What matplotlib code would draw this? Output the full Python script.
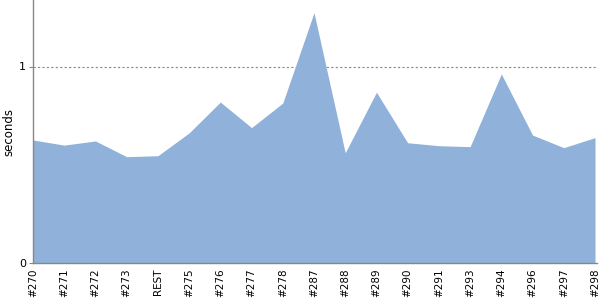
import numpy as np
import matplotlib
matplotlib.use('Agg')
import matplotlib.pyplot as plt

builds = ['#270', '#271', '#272', '#273', 'REST', '#275', '#276', '#277', '#278', '#287',
          '#288', '#289', '#290', '#291', '#293', '#294', '#296', '#297', '#298']
seconds = [0.626, 0.600, 0.621, 0.541, 0.546, 0.662, 0.819, 0.689, 0.814, 1.274,
           0.561, 0.869, 0.612, 0.597, 0.592, 0.962, 0.651, 0.587, 0.638]

x = np.arange(len(builds))

fig = plt.figure(figsize=(6, 3), dpi=100)
ax = fig.add_axes([33 / 600, 1 - 263 / 300, 564 / 600, 263 / 300])

ax.fill_between(x, 0, seconds, color='#8fb1da', linewidth=0)
ax.axhline(1, color='#888888', linewidth=0.8, linestyle=(0, (2, 2)), zorder=0)

ax.set_xlim(0, 18 * 564 / 562)
ax.set_ylim(0, 263 / 196.5)
ax.set_xticks(x)
ax.set_xticklabels(builds, rotation=90, fontsize=7.5)
ax.set_yticks([0, 1])
ax.set_yticklabels(['0', '1'], fontsize=8)
ax.tick_params(axis='x', length=0, pad=4)
ax.tick_params(axis='y', length=3, color='#888888', pad=2)
ax.set_ylabel('seconds', fontsize=8.5)
ax.yaxis.set_label_coords(-18 / 564, 0.5)

for side in ['top', 'right']:
    ax.spines[side].set_visible(False)
for side in ['left', 'bottom']:
    ax.spines[side].set_color('#888888')
    ax.spines[side].set_linewidth(1)

plt.savefig('out.png', dpi=100)
